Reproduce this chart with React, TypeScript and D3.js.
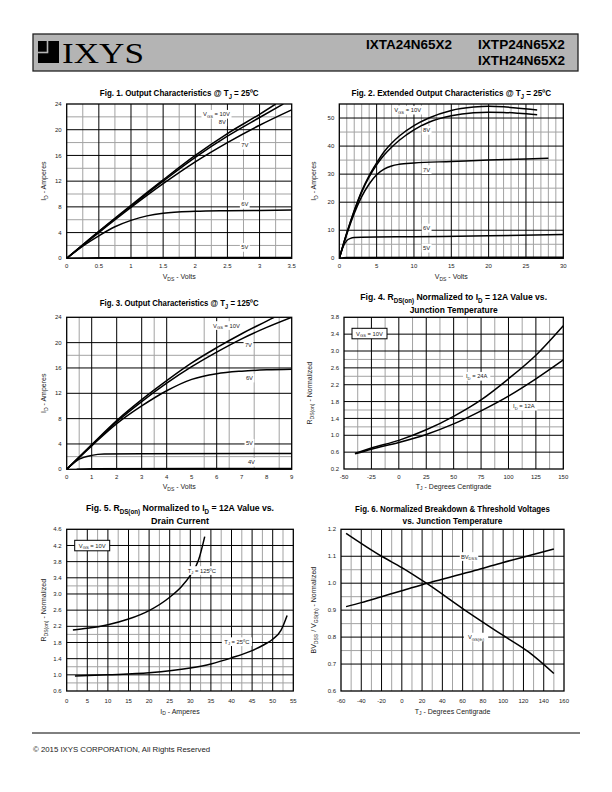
import React, { useLayoutEffect, useRef, useState } from 'react';
import * as d3 from 'd3';

type Pt = [number, number];
interface Lbl { text: string; x: number; y: number }

// ---------------- Fig. 1 : Output characteristics @ 25C ----------------
const fig1XTicks = [0, 0.5, 1, 1.5, 2, 2.5, 3, 3.5];
const fig1YTicks = [0, 4, 8, 12, 16, 20, 24];
const fig1MajorX = [0.5, 1, 1.5, 2, 2.5, 3];
const fig1MinorX = [0.25, 0.75, 1.25, 1.75, 2.25, 2.75, 3.25];
const fig1MajorY = [4, 8, 12, 16, 20];
const fig1MinorY = [2, 6, 10, 14, 18, 22];
const fig1Vgs10: Pt[] = [[0, 0], [0.25, 2.1], [0.5, 4.2], [1, 8.25], [1.5, 12.2], [2, 16.0], [2.5, 19.4], [3, 22.4], [3.25, 24]];
const fig1Vgs8: Pt[] = [[0, 0], [0.25, 2.1], [0.5, 4.15], [1, 8.1], [1.5, 12.0], [2, 15.7], [2.5, 19.0], [3, 21.9], [3.37, 24]];
const fig1Vgs7: Pt[] = [[0, 0], [0.25, 2.0], [0.5, 4.0], [1, 7.9], [1.5, 11.6], [2, 15.0], [2.5, 18.0], [3, 20.7], [3.5, 23.1]];
const fig1Vgs6: Pt[] = [[0, 0], [0.25, 1.9], [0.5, 3.5], [0.75, 4.9], [1, 5.9], [1.25, 6.6], [1.5, 7.0], [2, 7.3], [2.5, 7.4], [3, 7.45], [3.5, 7.5]];
const fig1Vgs5: Pt[] = [[0, 0], [0.5, 0.08], [3.5, 0.12]];
const fig1Labels: Lbl[] = [
  { text: 'V_{GS} = 10V', x: 2.33, y: 22.4 },
  { text: '8V', x: 2.42, y: 21.2 },
  { text: '7V', x: 2.77, y: 17.6 },
  { text: '6V', x: 2.77, y: 8.4 },
  { text: '5V', x: 2.77, y: 1.7 },
];

// ---------------- Fig. 2 : Extended output characteristics ----------------
const fig2XTicks = [0, 5, 10, 15, 20, 25, 30];
const fig2YTicks = [0, 10, 20, 30, 40, 50];
const fig2MajorX = [5, 10, 15, 20, 25];
const fig2MinorX = [1, 2, 3, 4, 6, 7, 8, 9, 11, 12, 13, 14, 16, 17, 18, 19, 21, 22, 23, 24, 26, 27, 28, 29];
const fig2MajorY = [10, 20, 30, 40, 50];
const fig2MinorY = [5, 15, 25, 35, 45];
const fig2Vgs10: Pt[] = [[0, 0], [1, 9], [2, 17], [3, 24], [4, 29.5], [5, 34], [6, 38], [7, 41], [8, 43.5], [10, 47.3], [12, 50], [15, 52.7], [18, 53.9], [20, 54.2], [22, 54], [24, 53.5], [26.5, 52.9]];
const fig2Vgs8: Pt[] = [[0, 0], [1, 8.9], [2, 16.8], [3, 23.6], [4, 29], [5, 33.3], [6, 36.8], [7, 39.6], [8, 42], [10, 45.8], [12, 48.5], [15, 50.8], [18, 51.9], [20, 52.1], [22, 52], [24, 51.7], [26.5, 51.2]];
const fig2Vgs7: Pt[] = [[0, 0], [1, 8.6], [2, 16], [3, 22], [4, 26.5], [5, 29.8], [6, 31.8], [7, 32.9], [8, 33.5], [10, 34], [15, 34.5], [20, 35], [25, 35.4], [28, 35.7]];
const fig2Vgs6: Pt[] = [[0, 0], [0.5, 4], [1, 6.3], [1.5, 7.1], [2, 7.4], [3, 7.5], [10, 7.7], [20, 8.0], [30, 8.5]];
const fig2Vgs5: Pt[] = [[0, 0], [1, 0.3], [30, 0.35]];
const fig2Labels: Lbl[] = [
  { text: 'V_{GS} = 10V', x: 9.15, y: 52.8 },
  { text: '8V', x: 11.7, y: 45.6 },
  { text: '7V', x: 11.7, y: 31.6 },
  { text: '6V', x: 11.7, y: 10.8 },
  { text: '5V', x: 11.7, y: 3.6 },
];

// ---------------- Fig. 3 : Output characteristics @ 125C ----------------
const fig3XTicks = [0, 1, 2, 3, 4, 5, 6, 7, 8, 9];
const fig3YTicks = [0, 4, 8, 12, 16, 20, 24];
const fig3MajorX = [1, 2, 3, 4, 6];
const fig3MinorX = [0.5, 3.5, 5.5, 6.5, 7.5, 8.5];
const fig3MajorY = [4, 8, 12, 16, 20];
const fig3MinorY = [2, 18];
const fig3Vgs10: Pt[] = [[0, 0], [1, 3.9], [2, 7.7], [3, 11.0], [4, 14.0], [5, 16.8], [6, 19.2], [7, 21.4], [8, 23.4], [8.3, 24]];
const fig3Vgs7: Pt[] = [[0, 0], [1, 3.8], [2, 7.5], [3, 10.7], [4, 13.6], [5, 16.2], [6, 18.5], [7, 20.6], [8, 22.4], [9, 24]];
const fig3Vgs6: Pt[] = [[0, 0], [1, 3.7], [2, 7.2], [3, 10.0], [4, 12.4], [5, 14.2], [6, 15.1], [7, 15.5], [8, 15.7], [9, 15.8]];
const fig3Vgs5: Pt[] = [[0, 0], [0.5, 1.6], [1, 2.2], [1.5, 2.4], [3, 2.45], [9, 2.5]];
const fig3Vgs4: Pt[] = [[0.4, 0], [1, 0.08], [9, 0.12]];
const fig3Labels: Lbl[] = [
  { text: 'V_{GS} = 10V', x: 6.39, y: 22.7 },
  { text: '7V', x: 7.27, y: 19.6 },
  { text: '6V', x: 7.31, y: 14.4 },
  { text: '5V', x: 7.31, y: 4.1 },
  { text: '4V', x: 7.39, y: 1.1 },
];

// ---------------- Fig. 4 : RDS(on) vs junction temperature ----------------
const fig4XTicks = [-50, -25, 0, 25, 50, 75, 100, 125, 150];
const fig4YTicks = [0.2, 0.6, 1.0, 1.4, 1.8, 2.2, 2.6, 3.0, 3.4, 3.8];
const fig4MajorX = [-25, 0, 25, 50, 75, 100, 125];
const fig4MinorX = [-37.5, -12.5, 12.5, 37.5, 62.5, 87.5, 112.5, 137.5];
const fig4MajorY = [0.6, 1.0, 1.4, 1.8, 2.2, 2.6, 3.0, 3.4];
const fig4MinorY = [1.2, 1.6, 2.4, 2.8];
const fig4Id24: Pt[] = [[-40, 0.57], [-25, 0.7], [0, 0.88], [25, 1.13], [50, 1.45], [75, 1.84], [100, 2.34], [125, 2.9], [150, 3.6]];
const fig4Id12: Pt[] = [[-40, 0.56], [-25, 0.67], [0, 0.83], [25, 1.02], [50, 1.27], [75, 1.58], [100, 1.93], [125, 2.34], [150, 2.79]];
const fig4Labels: Lbl[] = [
  { text: 'I_{D} = 24A', x: 71, y: 2.4 },
  { text: 'I_{D} = 12A', x: 114, y: 1.69 },
];

// ---------------- Fig. 5 : RDS(on) vs drain current ----------------
const fig5XTicks = [0, 5, 10, 15, 20, 25, 30, 35, 40, 45, 50, 55];
const fig5YTicks = [0.6, 1.0, 1.4, 1.8, 2.2, 2.6, 3.0, 3.4, 3.8, 4.2, 4.6];
const fig5MajorX = [5, 10, 15, 20, 25, 30, 35, 40, 45, 50];
const fig5MinorX = [2.5, 7.5, 12.5, 17.5, 22.5, 27.5, 32.5, 37.5, 42.5, 47.5, 52.5];
const fig5MajorY = [1.0, 1.4, 1.8, 2.2, 2.6, 3.0, 3.4, 3.8, 4.2];
const fig5MinorY = [0.8, 1.2, 2.0, 3.2];
const fig5Tj125: Pt[] = [[1.5, 2.11], [5, 2.15], [10, 2.24], [15, 2.38], [20, 2.59], [25, 2.92], [28, 3.2], [30, 3.46], [32, 3.84], [33.5, 4.42]];
const fig5Tj25: Pt[] = [[2, 0.97], [10, 1.0], [20, 1.05], [30, 1.17], [35, 1.27], [40, 1.42], [45, 1.6], [48, 1.75], [50, 1.88], [52, 2.1], [53.5, 2.47]];
const fig5Labels: Lbl[] = [
  { text: 'T_{J} = 125ºC', x: 32.8, y: 3.58 },
  { text: 'T_{J} = 25ºC', x: 41.3, y: 1.82 },
];

// ---------------- Fig. 6 : BVDSS & VGS(th) vs temperature ----------------
const fig6XTicks = [-60, -40, -20, 0, 20, 40, 60, 80, 100, 120, 140, 160];
const fig6YTicks = [0.6, 0.7, 0.8, 0.9, 1.0, 1.1, 1.2];
const fig6MajorX = [-40, -20, 0, 20, 40, 60, 80, 100, 120, 140];
const fig6MinorX = [-50, -30, -10, 10, 30, 50, 70, 90, 110, 130, 150];
const fig6MajorY = [0.7, 0.8, 0.9, 1.0, 1.1];
const fig6MinorY = [0.75, 0.85, 0.95, 1.05];
const fig6Bvdss: Pt[] = [[-55, 0.913], [-40, 0.928], [-20, 0.95], [0, 0.972], [25, 1.0], [50, 1.025], [75, 1.05], [100, 1.077], [125, 1.102], [150, 1.127]];
const fig6Vgsth: Pt[] = [[-55, 1.185], [-20, 1.1], [0, 1.058], [25, 0.998], [60, 0.906], [100, 0.806], [125, 0.745], [150, 0.665]];
const fig6Labels: Lbl[] = [
  { text: 'BV_{DSS}', x: 66.3, y: 1.099 },
  { text: 'V_{GS(th)}', x: 73.2, y: 0.8 },
];

// ---------------- rendering ----------------
const SANS = "'Liberation Sans', Arial, Helvetica, sans-serif";
const NARROW = "'Liberation Sans Narrow', 'Liberation Sans', Arial, sans-serif";
const TXT = '#222';

function rich(s: string, fs: number) {
  const parts = s.split(/(_\{[^}]*\})/).filter(p => p.length > 0);
  const shift = fs * 0.28;
  let down = false;
  return parts.map((p, i) => {
    if (p.startsWith('_{')) {
      const el = (
        <tspan key={i} fontSize={fs * 0.72} dy={down ? 0 : shift}>{p.slice(2, -1)}</tspan>
      );
      down = true;
      return el;
    }
    const el = <tspan key={i} dy={down ? -shift : 0}>{p}</tspan>;
    down = false;
    return el;
  });
}

// Text horizontally scaled so its natural advance equals `width`
function FitText(props: {
  x: number; y: number; width: number; anchor?: string; fontSize: number;
  fontFamily: string; fontWeight?: string; fill?: string; children: React.ReactNode;
}) {
  const ref = useRef<SVGTextElement>(null);
  const [k, setK] = useState(1);
  useLayoutEffect(() => {
    if (ref.current) {
      const w = ref.current.getComputedTextLength();
      if (w > 0) setK(props.width / w);
    }
  }, [props.width]);
  return (
    <g transform={`translate(${props.x},${props.y}) scale(${k},1)`}>
      <text ref={ref} x={0} y={0} textAnchor={props.anchor || 'start'} fontSize={props.fontSize}
        fontFamily={props.fontFamily} fontWeight={props.fontWeight} fill={props.fill || '#000'}>
        {props.children}
      </text>
    </g>
  );
}

interface Cfg {
  id: string;
  box: [number, number, number, number];
  xDomain: [number, number];
  yDomain: [number, number];
  xTicks: number[];
  yTicks: number[];
  xFmt: (v: number) => string;
  yFmt: (v: number) => string;
  majX: number[]; minX: number[]; majY: number[]; minY: number[];
  series: Pt[][];
  labels: Lbl[];
  legend?: string;
  title: string[];
  titleW: number[];
  titleY: number[];
  xTitle: string;
  yTitle: string;
  xTickY: number;
  xTitleY: number;
  yTitleX: number;
}

const f1 = d3.format('.1f');
const plain = (v: number) => String(v);

function Chart({ c }: { c: Cfg }) {
  const [l, t, r, b] = c.box;
  const x = d3.scaleLinear().domain(c.xDomain).range([l, r]);
  const y = d3.scaleLinear().domain(c.yDomain).range([b, t]);
  const line = d3.line<Pt>().x(d => x(d[0])).y(d => y(d[1])).curve(d3.curveMonotoneX);
  const cx = (l + r) / 2;
  const LFS = 5.8;
  return (
    <g>
      <defs>
        <clipPath id={`clip-${c.id}`}>
          <rect x={l} y={t} width={r - l} height={b - t} />
        </clipPath>
      </defs>
      <rect x={l} y={t} width={r - l} height={b - t} fill="#fff" />
      {c.minX.map(v => <line key={'nx' + v} x1={x(v)} x2={x(v)} y1={t} y2={b} stroke="#a3a3a3" strokeWidth={1} />)}
      {c.minY.map(v => <line key={'ny' + v} x1={l} x2={r} y1={y(v)} y2={y(v)} stroke="#a3a3a3" strokeWidth={1} />)}
      {c.majX.map(v => <line key={'jx' + v} x1={x(v)} x2={x(v)} y1={t} y2={b} stroke="#000" strokeWidth={1} />)}
      {c.majY.map(v => <line key={'jy' + v} x1={l} x2={r} y1={y(v)} y2={y(v)} stroke="#000" strokeWidth={1} />)}
      <rect x={l} y={t} width={r - l} height={b - t} fill="none" stroke="#000" strokeWidth={1.3} />
      <g clipPath={`url(#clip-${c.id})`}>
        {c.series.map((s, i) => (
          <path key={i} d={line(s) || ''} fill="none" stroke="#000" strokeWidth={1.5} strokeLinejoin="round" />
        ))}
      </g>
      {c.labels.map((lb, i) => {
        const vis = lb.text.replace(/_\{|\}/g, '');
        const w = vis.length * LFS * 0.5 + 4;
        const px = x(lb.x);
        const py = y(lb.y);
        return (
          <g key={'lb' + i}>
            <rect x={px - w / 2} y={py - LFS * 0.75} width={w} height={LFS * 1.5} fill="#fff" />
            <text x={px} y={py + LFS * 0.35} textAnchor="middle" fontSize={LFS} fontFamily={SANS} fill={TXT}>
              {rich(lb.text, LFS)}
            </text>
          </g>
        );
      })}
      {c.legend && (
        <g>
          <rect x={l + 8} y={t + 11} width={35} height={10.5} fill="#fff" stroke="#000" strokeWidth={1} />
          <text x={l + 8 + 17.5} y={t + 18.3} textAnchor="middle" fontSize={LFS} fontFamily={SANS} fill={TXT}>
            {rich(c.legend, LFS)}
          </text>
        </g>
      )}
      {c.xTicks.map(v => (
        <text key={'xt' + v} x={x(v)} y={c.xTickY} textAnchor="middle" fontSize={6} fontFamily={SANS} fill={TXT}>
          {c.xFmt(v)}
        </text>
      ))}
      {c.yTicks.map(v => (
        <text key={'yt' + v} x={l - 5} y={y(v) + 2.1} textAnchor="end" fontSize={6} fontFamily={SANS} fill={TXT}>
          {c.yFmt(v)}
        </text>
      ))}
      {c.title.map((s, i) => (
        <FitText key={'ti' + i} x={cx} y={c.titleY[i]} width={c.titleW[i]} anchor="middle" fontSize={9}
          fontWeight="bold" fontFamily={NARROW}>
          {rich(s, 9)}
        </FitText>
      ))}
      <text x={cx} y={c.xTitleY} textAnchor="middle" fontSize={7} fontFamily={SANS} fill={TXT}>
        {rich(c.xTitle, 7)}
      </text>
      <text transform={`translate(${c.yTitleX},${(t + b) / 2}) rotate(-90)`} textAnchor="middle" fontSize={7}
        fontFamily={SANS} fill={TXT}>
        {rich(c.yTitle, 7)}
      </text>
    </g>
  );
}

const charts: Cfg[] = [
  {
    id: 'f1', box: [66.7, 104, 291.7, 258.3], xDomain: [0, 3.5], yDomain: [0, 24],
    xTicks: fig1XTicks, yTicks: fig1YTicks, xFmt: plain, yFmt: plain,
    majX: fig1MajorX, minX: fig1MinorX, majY: fig1MajorY, minY: fig1MinorY,
    series: [fig1Vgs10, fig1Vgs8, fig1Vgs7, fig1Vgs6, fig1Vgs5], labels: fig1Labels,
    title: ['Fig. 1. Output Characteristics @ T_{J} = 25ºC'], titleW: [159], titleY: [96],
    xTitle: 'V_{DS} - Volts', yTitle: 'I_{D} - Amperes', xTickY: 268, xTitleY: 279, yTitleX: 46,
  },
  {
    id: 'f2', box: [339.3, 104, 563.3, 258.3], xDomain: [0, 30], yDomain: [0, 55],
    xTicks: fig2XTicks, yTicks: fig2YTicks, xFmt: plain, yFmt: plain,
    majX: fig2MajorX, minX: fig2MinorX, majY: fig2MajorY, minY: fig2MinorY,
    series: [fig2Vgs10, fig2Vgs8, fig2Vgs7, fig2Vgs6, fig2Vgs5], labels: fig2Labels,
    title: ['Fig. 2. Extended Output Characteristics @ T_{J} = 25ºC'], titleW: [200], titleY: [96],
    xTitle: 'V_{DS} - Volts', yTitle: 'I_{D} - Amperes', xTickY: 268, xTitleY: 279, yTitleX: 316,
  },
  {
    id: 'f3', box: [66.7, 317.3, 291.7, 469.3], xDomain: [0, 9], yDomain: [0, 24],
    xTicks: fig3XTicks, yTicks: fig3YTicks, xFmt: plain, yFmt: plain,
    majX: fig3MajorX, minX: fig3MinorX, majY: fig3MajorY, minY: fig3MinorY,
    series: [fig3Vgs10, fig3Vgs7, fig3Vgs6, fig3Vgs5, fig3Vgs4], labels: fig3Labels,
    title: ['Fig. 3. Output Characteristics @ T_{J} = 125ºC'], titleW: [159], titleY: [306],
    xTitle: 'V_{DS} - Volts', yTitle: 'I_{D} - Amperes', xTickY: 478.5, xTitleY: 489, yTitleX: 46,
  },
  {
    id: 'f4', box: [344, 317.3, 563.3, 469], xDomain: [-50, 150], yDomain: [0.2, 3.8],
    xTicks: fig4XTicks, yTicks: fig4YTicks, xFmt: plain, yFmt: f1,
    majX: fig4MajorX, minX: fig4MinorX, majY: fig4MajorY, minY: fig4MinorY,
    series: [fig4Id24, fig4Id12], labels: fig4Labels, legend: 'V_{GS} = 10V',
    title: ['Fig. 4. R_{DS(on)} Normalized to I_{D} = 12A Value vs.', 'Junction Temperature'],
    titleW: [187, 88], titleY: [300, 313],
    xTitle: 'T_{J} - Degrees Centigrade', yTitle: 'R_{DS(on)} - Normalized', xTickY: 478.5, xTitleY: 488.5, yTitleX: 312,
  },
  {
    id: 'f5', box: [66.7, 529.3, 293.3, 691], xDomain: [0, 55], yDomain: [0.6, 4.6],
    xTicks: fig5XTicks, yTicks: fig5YTicks, xFmt: plain, yFmt: f1,
    majX: fig5MajorX, minX: fig5MinorX, majY: fig5MajorY, minY: fig5MinorY,
    series: [fig5Tj125, fig5Tj25], labels: fig5Labels, legend: 'V_{GS} = 10V',
    title: ['Fig. 5. R_{DS(on)} Normalized to I_{D} = 12A Value vs.', 'Drain Current'],
    titleW: [188, 58], titleY: [511, 524],
    xTitle: 'I_{D} - Amperes', yTitle: 'R_{DS(on)} - Normalized', xTickY: 703, xTitleY: 713.5, yTitleX: 46,
  },
  {
    id: 'f6', box: [341, 529.3, 564, 691], xDomain: [-60, 160], yDomain: [0.6, 1.2],
    xTicks: fig6XTicks, yTicks: fig6YTicks, xFmt: plain, yFmt: f1,
    majX: fig6MajorX, minX: fig6MinorX, majY: fig6MajorY, minY: fig6MinorY,
    series: [fig6Bvdss, fig6Vgsth], labels: fig6Labels,
    title: ['Fig. 6. Normalized Breakdown & Threshold Voltages', 'vs. Junction Temperature'],
    titleW: [195, 100], titleY: [512, 524],
    xTitle: 'T_{J} - Degrees Centigrade', yTitle: 'BV_{DSS} / V_{GS(th)} - Normalized', xTickY: 703, xTitleY: 713.5, yTitleX: 316,
  },
];

const partNumbers = ['IXTA24N65X2', 'IXTP24N65X2', 'IXTH24N65X2'];

export default function App() {
  return (
    <svg width={612} height={792} viewBox="0 0 612 792" style={{ position: 'absolute', left: 0, top: 0, background: '#fff' }}>
      <rect x={0} y={0} width={612} height={792} fill="#fff" />
      {/* header */}
      <rect x={33} y={34} width={545} height={37} fill="#b4b4b4" stroke="#222" strokeWidth={1.3} />
      <rect x={38} y={41} width={21} height={22} fill="#000" />
      <line x1={47.5} y1={41} x2={47.5} y2={52} stroke="#b4b4b4" strokeWidth={1.6} />
      <line x1={38} y1={52.5} x2={48.3} y2={52.5} stroke="#b4b4b4" strokeWidth={1.6} />
      <FitText x={62} y={63} width={82} fontSize={30} fontFamily="'Liberation Serif', 'Times New Roman', serif">IXYS</FitText>
      <FitText x={366} y={48.5} width={86} fontSize={12.5} fontWeight="bold" fontFamily={SANS}>{partNumbers[0]}</FitText>
      <FitText x={478} y={48.5} width={87} fontSize={12.5} fontWeight="bold" fontFamily={SANS}>{partNumbers[1]}</FitText>
      <FitText x={478} y={65} width={87} fontSize={12.5} fontWeight="bold" fontFamily={SANS}>{partNumbers[2]}</FitText>
      {charts.map(c => <Chart key={c.id} c={c} />)}
      {/* footer */}
      <line x1={32} y1={733} x2={580} y2={733} stroke="#000" strokeWidth={1} />
      <text x={33} y={752} fontFamily={SANS} fontSize={7.8} fill={TXT}>© 2015 IXYS CORPORATION, All Rights Reserved</text>
    </svg>
  );
}
